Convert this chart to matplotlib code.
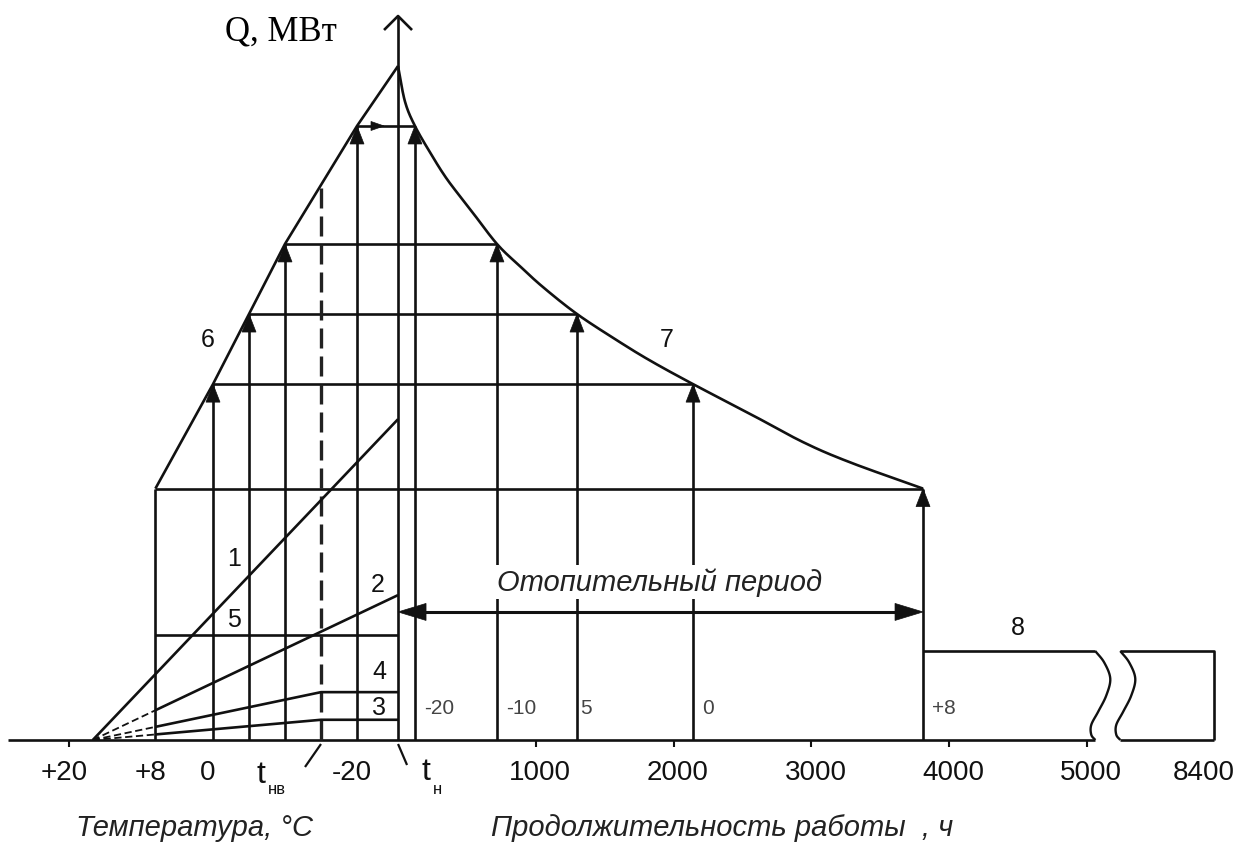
import numpy as np
import matplotlib.pyplot as plt
from matplotlib.patches import Polygon

plt.rcParams['font.family'] = ['Liberation Sans', 'DejaVu Sans']

# ---- данные (температура в °C, продолжительность в ч, нагрузка в усл. МВт)
t_in = 16.7            # точка схождения линий 1-4
t_nv = -15.0           # t_нв
t_n = -25.7            # t_н (расчётная)
temps = [8, 0, -5, -10, -20]
q_total = [37.3, 52.8, 63.2, 73.6, 91.1]      # линия 6 в этих точках
q_peak = 100.0
hours_at_t = [3810, 2141, 1299, 718, 123]     # где эти нагрузки на кривой 7
dur_labels = ['+8', '0', '5', '-10', '-20']

# кривая 7 - график продолжительности
curve_h = [0, 51, 123, 232, 356, 522, 718, 885, 1052, 1299, 1589, 1829,
           2141, 2554, 2939, 3280, 3810]
curve_q = [100, 94.7, 91.1, 87.2, 83.2, 78.8, 73.6, 70.3, 67.2, 63.2, 59.3,
           56.3, 52.8, 48.4, 44.2, 41.2, 37.3]

q1_design = 47.6   # линия 1 при t_н
q2_design = 21.5   # линия 2 при t_н
q4_max = 7.1       # линия 4 после t_нв
q3_max = 3.0       # линия 3 после t_нв
q5 = 15.6          # линия 5
q8 = 13.2          # летний участок 8
q_period = 19.0    # уровень стрелки "Отопительный период"

temp_ticks = [20, 8, 0, -20]
temp_tick_labels = ['+20', '+8', '0', '-20']
hour_ticks = [1000, 2000, 3000, 4000, 5000]
hour_tick_labels = ['1000', '2000', '3000', '4000', '5000']
h_end = 8400
h_break = (5060, 7720)

# ---- шкалы (в пикселях картинки)
X0, KX = 213, 7.2
H0, KH, GAP = 398, 0.1378, 25
Y0, KY = 741, 6.74


def tx(t):
    return X0 - KX * np.asarray(t, float)


def hx(h):
    h = np.asarray(h, float)
    after = H0 + KH * h_break[0] + GAP + KH * (h - h_break[1])
    return np.where(h >= h_break[1], after, H0 + KH * h)


def qy(q):
    return Y0 - KY * np.asarray(q, float)


def smooth(xs, ys, n=16):
    # Catmull-Rom, только для гладкой отрисовки линии
    P = np.column_stack([xs, ys]).astype(float)
    P = np.vstack([2 * P[0] - P[1], P, 2 * P[-1] - P[-2]])
    out = []
    s = np.linspace(0, 1, n, endpoint=False)[:, None]
    for i in range(1, len(P) - 2):
        p0, p1, p2, p3 = P[i - 1], P[i], P[i + 1], P[i + 2]
        out.append(0.5 * (2 * p1 + (-p0 + p2) * s
                          + (2 * p0 - 5 * p1 + 4 * p2 - p3) * s ** 2
                          + (-p0 + 3 * p1 - 3 * p2 + p3) * s ** 3))
    out.append(P[-2][None, :])
    out = np.vstack(out)
    return out[:, 0], out[:, 1]


fig = plt.figure(figsize=(12.42, 8.45), dpi=100)
ax = fig.add_axes([0, 0, 1, 1])
ax.set_xlim(0, 1242)
ax.set_ylim(845, 0)
ax.axis('off')

LW = 1.9
K = '#111111'


def line(xs, ys, **kw):
    kw.setdefault('lw', LW)
    kw.setdefault('color', K)
    ax.plot(xs, ys, solid_capstyle='butt', **kw)


def head(x, y, d='up', L=18, W=14):
    if d == 'up':
        pts = [(x, y), (x - W / 2, y + L), (x + W / 2, y + L)]
    elif d == 'right':
        pts = [(x, y), (x - L, y - W / 2), (x - L, y + W / 2)]
    else:
        pts = [(x, y), (x + L, y - W / 2), (x + L, y + W / 2)]
    ax.add_patch(Polygon(pts, closed=True, fc=K, ec=K, lw=0.5, zorder=3))


# ось абсцисс
line([8, hx(h_break[0])], [Y0, Y0])
line([hx(h_break[1]), hx(h_end)], [Y0, Y0])
# ось Q
xq = float(tx(t_n))
line([xq, xq], [Y0, 17])
line([xq - 14, xq, xq + 14], [31, 17, 31])

# линия 6 и кривая 7
line(tx(temps + [t_n]), qy(q_total + [q_peak]))
line(*smooth(hx(curve_h), qy(curve_q)))

# построение: вертикали, горизонтали, стрелки
for t, q, h in zip(temps, q_total, hours_at_t):
    xl, xr, y = float(tx(t)), float(hx(h)), float(qy(q))
    line([xl, xr], [y, y])
    line([xl, xl], [Y0, y])
    line([xr, xr], [Y0, y])
    if t != 8:
        head(xl, y)
    head(xr, y)
# маленькая стрелка на верхней горизонтали
head(384, float(qy(q_total[-1])), 'right', L=13, W=9)

# t_нв - штриховая
q_nv = np.interp(-t_nv, [-t for t in temps], q_total)
ax.plot([tx(t_nv)] * 2, [Y0, qy(q_nv)], color='#222222', lw=2.4,
        dashes=(6, 2.4))

# линии 1-5
line([tx(t_in), tx(t_n)], [Y0, qy(q1_design)])
q2_8 = q2_design * (t_in - 8) / (t_in - t_n)
ax.plot([tx(t_in), tx(8)], [Y0, qy(q2_8)], color=K, lw=1.3, dashes=(4, 2))
line([tx(8), tx(t_n)], [qy(q2_8), qy(q2_design)])
for qm in [q4_max, q3_max]:
    q8v = qm * (t_in - 8) / (t_in - t_nv)
    ax.plot([tx(t_in), tx(8)], [Y0, qy(q8v)], color=K, lw=1.3, dashes=(4, 2))
    line([tx(8), tx(t_nv), tx(t_n)], [qy(q8v), qy(qm), qy(qm)])
line([tx(8), tx(t_n)], [qy(q5)] * 2)

# летний участок 8 с разрывом
line([hx(hours_at_t[0]), hx(h_break[0])], [qy(q8)] * 2)
line([hx(h_break[1]), hx(h_end), hx(h_end)], [qy(q8), qy(q8), Y0])
wave_dx = np.array([0, 9, 15, 11, 3, -4, -4, 0])
wave_f = np.array([0, .13, .31, .5, .68, .83, .94, 1])
wave_y = qy(q8) + (Y0 - qy(q8)) * wave_f
for xb in [hx(h_break[0]), hx(h_break[1])]:
    line(*smooth(xb + wave_dx, wave_y, n=10), lw=1.7)

# отопительный период
yp = float(qy(q_period))
line([xq + 20, hx(hours_at_t[0]) - 20], [yp, yp], lw=2.2)
head(xq, yp, 'left', L=28, W=17)
head(float(hx(hours_at_t[0])), yp, 'right', L=28, W=17)
ax.text(660, 583, 'Отопительный период', fontsize=21, style='italic',
        ha='center', va='center', color='#222222',
        bbox=dict(fc='white', ec='none', pad=2))

# засечки
for t in temp_ticks[:1]:
    line([tx(t)] * 2, [Y0, Y0 + 7], lw=1.5)
for h in hour_ticks:
    line([hx(h)] * 2, [Y0, Y0 + 7], lw=1.5)

# подписи шкал
for t, s in zip(temp_ticks, temp_tick_labels):
    ax.text(tx(t) - 5, 773, s, fontsize=20, ha='center', va='center', color=K)
for h, s in zip(hour_ticks, hour_tick_labels):
    ax.text(hx(h) + 4, 773, s, fontsize=20, ha='center', va='center', color=K)
ax.text(hx(h_end) - 10, 773, '8400', fontsize=20, ha='center', va='center',
        color=K)

# t_нв и t_н
line([tx(t_nv), tx(t_nv) - 16], [Y0 + 4, Y0 + 27], lw=1.6)
ax.text(261, 775, 't', fontsize=23, ha='center', va='center', color=K)
ax.text(277, 790, 'нв', fontsize=12, ha='center', va='center', color=K)
line([xq, xq + 9], [Y0 + 4, Y0 + 25], lw=1.6)
ax.text(426, 772, 't', fontsize=23, ha='center', va='center', color=K)
ax.text(438, 790, 'н', fontsize=12, ha='center', va='center', color=K)

# подписи вертикалей продолжительности
for h, s in zip(hours_at_t, dur_labels):
    off = 3 if s == '5' else 9
    ax.text(hx(h) + off, 709, s, fontsize=15, ha='left', va='center',
            color='#444444')

# номера линий
for s, x, y in [('1', 234, 559), ('5', 234, 620), ('2', 378, 585),
                ('4', 379, 672), ('3', 379, 708), ('6', 208, 340),
                ('7', 667, 340), ('8', 1018, 628)]:
    ax.text(x, y, s, fontsize=18, ha='center', va='center', color=K)

# заголовки осей
ax.text(281, 32, 'Q, МВт', fontsize=25, family='Liberation Serif',
        ha='center', va='center', color='black')
ax.text(195, 828, 'Температура, °C', fontsize=21, style='italic',
        ha='center', va='center', color='#222222')
ax.text(722, 828, 'Продолжительность работы  , ч', fontsize=21,
        style='italic', ha='center', va='center', color='#222222')

fig.savefig('out.png', dpi=100, facecolor='white')
